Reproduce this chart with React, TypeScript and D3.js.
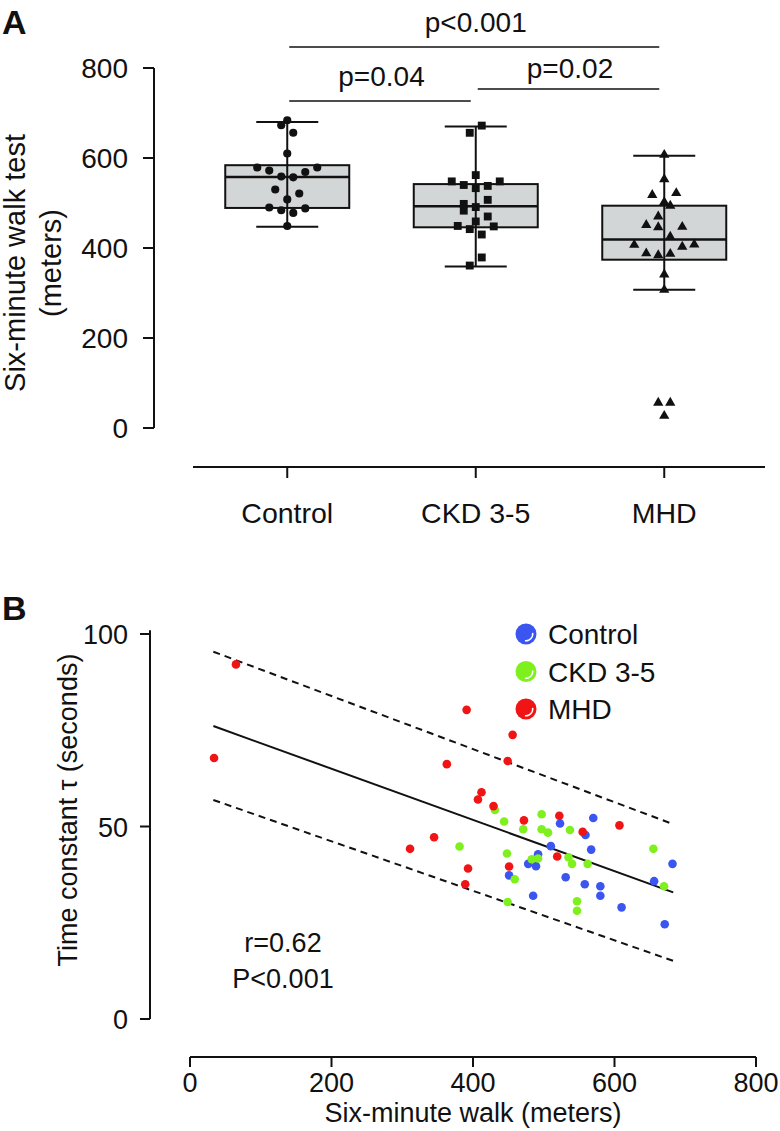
import React from "react";
import * as d3 from "d3";

// ---------- Panel A data ----------
const groups = ["Control", "CKD 3-5", "MHD"];
const controlValues = [684, 673, 656, 610, 579, 579, 572, 569, 559, 557, 530, 521, 508, 490, 484, 478, 488, 449];
const controlSlots = [0, -1, 1, 0, -5, 5, -3, 3, -1, 1, -2, 2, 0, -3, -1, 1, 3, 0];
const ckdValues = [672, 656, 562, 548, 540, 533, 538, 548, 498, 483, 491, 507, 470, 459, 449, 442, 448, 430, 379, 361];
const ckdSlots = [1, -1, 0, -4, -2, 0, 2, 4, -2, -2, 0, 2, 2, 0, -3, -1, 3, 1, 1, -1];
const mhdValues = [607, 553, 518, 522, 502, 494, 470, 451, 446, 447, 425, 407, 403, 408, 388, 384, 387, 341, 307, 56, 56, 27];
const mhdSlots = [0, 0, -2, 2, 0, 1, -1, -3, -1, 3, 1, -5, 3, 5, -3, -1, 1, 0, 0, -1, 1, 0];
// box stats: [lower whisker, Q1, median, Q3, upper whisker]
const controlBox = [447, 489, 558, 584, 680];
const ckdBox = [359, 446, 493, 542, 670];
const mhdBox = [307, 374, 419, 494, 605];
const yTicksA = [0, 200, 400, 600, 800];
const comparisons = [
  { from: "Control", to: "MHD", label: "p<0.001", level: 2 },
  { from: "Control", to: "CKD 3-5", label: "p=0.04", level: 0 },
  { from: "CKD 3-5", to: "MHD", label: "p=0.02", level: 1 },
];

// ---------- Panel B data ----------
const controlWalk = [523, 570, 559, 510, 492, 489, 478, 567, 682, 531, 558, 580, 580, 485, 656, 610, 671, 451];
const controlTau = [50.8, 52.2, 47.8, 44.9, 42.8, 39.7, 40.3, 44.0, 40.3, 36.8, 35.0, 34.5, 32.0, 32.0, 35.8, 29.0, 24.6, 37.3];
const ckdWalk = [431, 444, 497, 471, 497, 506, 537, 381, 448, 483, 492, 535, 540, 562, 655, 670, 459, 449, 547, 547];
const ckdTau = [54.3, 51.3, 53.2, 49.3, 49.3, 48.4, 49.1, 44.8, 43.0, 41.5, 41.7, 42.0, 40.3, 40.3, 44.2, 34.5, 36.3, 30.4, 30.6, 28.1];
const mhdWalk = [65, 34, 391, 456, 363, 449, 412, 407, 429, 472, 522, 555, 607, 519, 345, 311, 451, 393, 389];
const mhdTau = [92.1, 67.8, 80.3, 73.8, 66.2, 67.0, 58.9, 57.0, 55.3, 51.6, 52.8, 48.6, 50.3, 42.2, 47.2, 44.2, 39.6, 39.1, 35.0];
const fitWalk = [33, 683];
const fitTau = [76.1, 32.9];
const upperTau = [95.4, 50.6];
const lowerTau = [56.9, 15.1];
const xTicksB = [0, 200, 400, 600, 800];
const yTicksB = [0, 50, 100];
const legendLabels = ["Control", "CKD 3-5", "MHD"];

const FONT = "'Liberation Sans', Arial, Helvetica, sans-serif";
const colors = ["#3a55f0", "#7ef01e", "#f01414"];

export default function App() {
  // ---- scales panel A
  const xA = d3.scaleBand<string>().domain(groups).range([193, 758.5]).padding(0);
  const cx = (g: string) => (xA(g) as number) + xA.bandwidth() / 2;
  const yA = d3.scaleLinear().domain([0, 800]).range([428, 68]);
  const boxes = [controlBox, ckdBox, mhdBox];
  const valuesA = [controlValues, ckdValues, mhdValues];
  const slotsA = [controlSlots, ckdSlots, mhdSlots];
  const symbols = [d3.symbolCircle, d3.symbolSquare, d3.symbolTriangle];
  const symbolSizes = [52, 62, 46];
  const bracketY = d3.scaleOrdinal<number, number>().domain([0, 1, 2]).range([101, 89, 47]);
  const labelGap = d3.scaleOrdinal<number, number>().domain([0, 1, 2]).range([15, 11, 15]);

  // ---- scales panel B
  const xB = d3.scaleLinear().domain([0, 800]).range([190, 756]);
  const yB = d3.scaleLinear().domain([0, 100]).range([1019, 634]);
  const line = d3
    .line<[number, number]>()
    .x((d) => xB(d[0]))
    .y((d) => yB(d[1]));
  const fitPts = fitWalk.map((w, i) => [w, fitTau[i]] as [number, number]);
  const upPts = fitWalk.map((w, i) => [w, upperTau[i]] as [number, number]);
  const loPts = fitWalk.map((w, i) => [w, lowerTau[i]] as [number, number]);
  const walks = [controlWalk, ckdWalk, mhdWalk];
  const taus = [controlTau, ckdTau, mhdTau];

  const txt = { fontFamily: FONT, fill: "#111" } as const;

  return (
    <svg width={780} height={1131} style={{ position: "absolute", left: 0, top: 0 }}>
      <rect width={780} height={1131} fill="#fff" />
      {/* ================= Panel A ================= */}
      <text x={2} y={34} fontSize={34} fontWeight="bold" {...txt}>A</text>
      {/* y axis */}
      <line x1={154} x2={154} y1={yA(0)} y2={yA(800)} stroke="#111" strokeWidth={2} />
      {yTicksA.map((t) => (
        <g key={t}>
          <line x1={143} x2={154} y1={yA(t)} y2={yA(t)} stroke="#111" strokeWidth={2} />
          <text x={128} y={yA(t) + 10} fontSize={28} textAnchor="end" {...txt}>{t}</text>
        </g>
      ))}
      <text transform={`translate(25,263) rotate(-90)`} fontSize={29} textAnchor="middle" {...txt}>Six-minute walk test</text>
      <text transform={`translate(61,263) rotate(-90)`} fontSize={29} textAnchor="middle" {...txt}>(meters)</text>
      {/* x axis */}
      <line x1={193} x2={765} y1={467} y2={467} stroke="#111" strokeWidth={2} />
      {groups.map((g) => (
        <g key={g}>
          <line x1={cx(g)} x2={cx(g)} y1={467} y2={478} stroke="#111" strokeWidth={2} />
          <text x={cx(g)} y={523} fontSize={28.5} textAnchor="middle" {...txt}>{g}</text>
        </g>
      ))}
      {/* boxes */}
      {groups.map((g, i) => {
        const b = boxes[i];
        const c = cx(g);
        return (
          <g key={g}>
            <line x1={c} x2={c} y1={yA(b[0])} y2={yA(b[4])} stroke="#111" strokeWidth={2} />
            <line x1={c - 31} x2={c + 31} y1={yA(b[0])} y2={yA(b[0])} stroke="#111" strokeWidth={2} />
            <line x1={c - 31} x2={c + 31} y1={yA(b[4])} y2={yA(b[4])} stroke="#111" strokeWidth={2} />
            <rect x={c - 62} y={yA(b[3])} width={124} height={yA(b[1]) - yA(b[3])} fill="#d3d6d6" stroke="#111" strokeWidth={2} />
            <line x1={c} x2={c} y1={yA(b[3])} y2={yA(b[1])} stroke="#111" strokeWidth={2} />
            <line x1={c - 62} x2={c + 62} y1={yA(b[2])} y2={yA(b[2])} stroke="#111" strokeWidth={2.5} />
          </g>
        );
      })}
      {/* points */}
      {groups.map((g, i) => {
        const sym = d3.symbol().type(symbols[i]).size(symbolSizes[i])();
        return (
          <g key={g}>
            {valuesA[i].map((v, j) => (
              <path key={j} d={sym as string} transform={`translate(${cx(g) + slotsA[i][j] * 6},${yA(v)})`} fill="#111" />
            ))}
          </g>
        );
      })}
      {/* brackets */}
      {comparisons.map((c) => {
        const y = bracketY(c.level);
        const x1 = cx(c.from);
        const x2 = cx(c.to);
        return (
          <g key={c.label}>
            <line x1={x1 + 2} x2={x2 - 5} y1={y} y2={y} stroke="#111" strokeWidth={1.6} />
            <text x={(x1 + x2) / 2} y={y - labelGap(c.level)} fontSize={28} textAnchor="middle" {...txt}>{c.label}</text>
          </g>
        );
      })}

      {/* ================= Panel B ================= */}
      <text x={2} y={620} fontSize={34} fontWeight="bold" {...txt}>B</text>
      {/* y axis */}
      <line x1={150} x2={150} y1={yB(0)} y2={yB(101)} stroke="#111" strokeWidth={2} />
      {yTicksB.map((t) => (
        <g key={t}>
          <line x1={140} x2={150} y1={yB(t)} y2={yB(t)} stroke="#111" strokeWidth={2} />
          <text x={128} y={yB(t) + 10} fontSize={27} textAnchor="end" {...txt}>{t}</text>
        </g>
      ))}
      <text transform={`translate(77,810) rotate(-90)`} fontSize={27} textAnchor="middle" {...txt}>Time constant τ (seconds)</text>
      {/* x axis */}
      <line x1={xB(0)} x2={xB(800)} y1={1057} y2={1057} stroke="#111" strokeWidth={2} />
      {xTicksB.map((t) => (
        <g key={t}>
          <line x1={xB(t)} x2={xB(t)} y1={1057} y2={1067} stroke="#111" strokeWidth={2} />
          <text x={xB(t)} y={1092} fontSize={27} textAnchor="middle" {...txt}>{t}</text>
        </g>
      ))}
      <text x={xB(400)} y={1122} fontSize={27} textAnchor="middle" {...txt}>Six-minute walk (meters)</text>
      {/* regression lines */}
      <path d={line(upPts) as string} fill="none" stroke="#111" strokeWidth={2} strokeDasharray="7,5" />
      <path d={line(loPts) as string} fill="none" stroke="#111" strokeWidth={2} strokeDasharray="7,5" />
      <path d={line(fitPts) as string} fill="none" stroke="#111" strokeWidth={2} />
      {/* points */}
      {walks.map((ws, i) => (
        <g key={i}>
          {ws.map((w, j) => (
            <circle key={j} cx={xB(w)} cy={yB(taus[i][j])} r={4.3} fill={colors[i]} />
          ))}
        </g>
      ))}
      {/* legend */}
      {legendLabels.map((l, i) => {
        const cy = 634 + i * 37.5;
        const arc = d3.arc()({ innerRadius: 6, outerRadius: 7.5, startAngle: Math.PI * 0.45, endAngle: Math.PI * 1.05 }) as string;
        return (
          <g key={l}>
            <circle cx={526} cy={cy} r={10.5} fill={colors[i]} />
            <path d={arc} transform={`translate(526,${cy})`} fill="#fff" />
            <text x={548} y={cy + 10} fontSize={28} {...txt}>{l}</text>
          </g>
        );
      })}
      {/* stats */}
      <text x={283} y={952} fontSize={27} textAnchor="middle" {...txt}>r=0.62</text>
      <text x={283} y={988} fontSize={27} textAnchor="middle" {...txt}>P&lt;0.001</text>
    </svg>
  );
}
